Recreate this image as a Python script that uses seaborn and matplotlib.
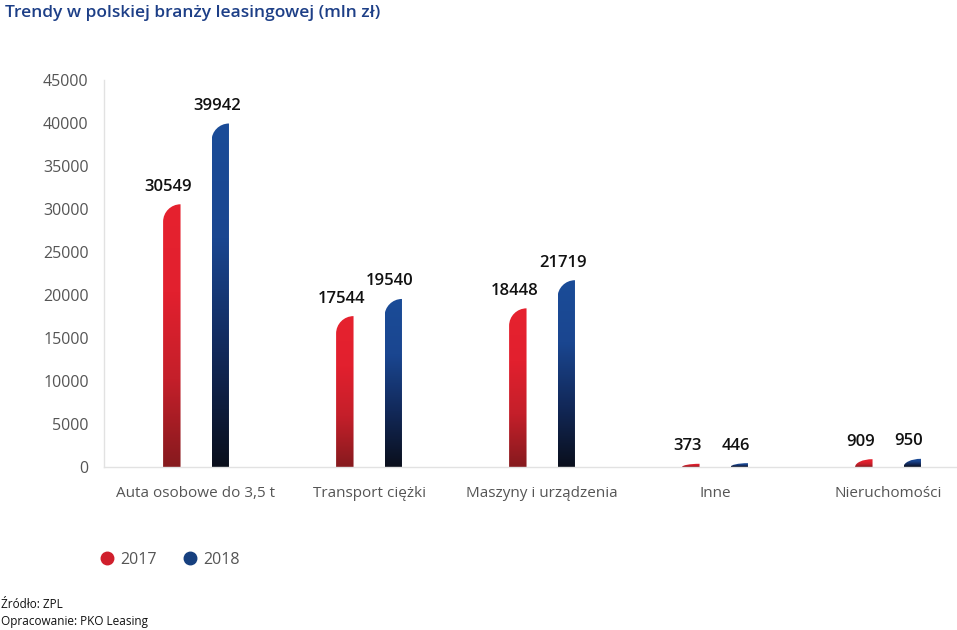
import numpy as np
import pandas as pd
import matplotlib
matplotlib.use("Agg")
import matplotlib.pyplot as plt
import seaborn as sns
from matplotlib.path import Path
from matplotlib.patches import PathPatch
from matplotlib.colors import LinearSegmentedColormap
from matplotlib.lines import Line2D

# dane
kategorie = ["Auta osobowe do 3,5 t", "Transport ciężki", "Maszyny i urządzenia",
             "Inne", "Nieruchomości"]
lata = ["2017", "2018"]
wartosci_2017 = [30549, 17544, 18448, 373, 909]
wartosci_2018 = [39942, 19540, 21719, 446, 950]
y_ticks = [0, 5000, 10000, 15000, 20000, 25000, 30000, 35000, 40000, 45000]

tytul = "Trendy w polskiej branży leasingowej (mln zł)"
zrodlo = "Źródło: ZPL"
opracowanie = "Opracowanie: PKO Leasing"

df = pd.DataFrame({
    "kategoria": kategorie * 2,
    "rok": [lata[0]] * len(kategorie) + [lata[1]] * len(kategorie),
    "wartosc": wartosci_2017 + wartosci_2018,
})

# gradijenti (dole -> gore)
gradijenti = {
    "2017": LinearSegmentedColormap.from_list("r", ["#861a1e", "#c41f2a", "#e2202e", "#e6222f"]),
    "2018": LinearSegmentedColormap.from_list("b", ["#0a0f1c", "#12295a", "#1a4690", "#1b4c98"]),
}
boje_legende = {"2017": "#d01f2c", "2018": "#16407f"}

sns.set_style("white")
plt.rcParams["font.family"] = ["Open Sans", "DejaVu Sans"]

fig = plt.figure(figsize=(9.57, 6.30), dpi=100)
ax = fig.add_axes([104 / 957, 1 - 467 / 630, 853 / 957, (467 - 80) / 630])

sns.barplot(data=df, x="kategoria", y="wartosc", hue="rok", hue_order=lata,
            width=0.56, gap=0.64, legend=False, ax=ax)

ymax = 45000
xlim = (-0.532, -0.532 + 853 / 173)
ax.set_ylim(0, ymax)
ax.set_xlim(*xlim)

# zaobljeni vrh: poluprecnik u pikselima ~ sirina stuba
fig.canvas.draw()
px_per_data_y = ax.bbox.height / ymax
px_per_data_x = ax.bbox.width / (xlim[1] - xlim[0])

grad = np.linspace(0, 1, 256).reshape(-1, 1)
for rok, cont in zip(lata, ax.containers):
    for bar in cont:
        x0 = bar.get_x()
        w = bar.get_width()
        h = bar.get_height()
        x1 = x0 + w
        bar.set_visible(False)
        ry = min(w * px_per_data_x / px_per_data_y, h)
        k = 0.5523
        verts = [(x0, 0), (x0, h - ry), (x0, h - ry + k * ry), (x1 - k * w, h),
                 (x1, h), (x1, 0), (x0, 0)]
        codes = [Path.MOVETO, Path.LINETO, Path.CURVE4, Path.CURVE4, Path.CURVE4,
                 Path.LINETO, Path.CLOSEPOLY]
        patch = PathPatch(Path(verts, codes), facecolor="none", edgecolor="none")
        ax.add_patch(patch)
        img = ax.imshow(grad, cmap=gradijenti[rok], origin="lower",
                        extent=(x0, x1, 0, h), aspect="auto", zorder=2)
        img.set_clip_path(patch)
        ax.text(x0 + w / 2 - 0.02, h + 1100, f"{int(h)}", ha="center", va="bottom",
                fontsize=12, color="#111111", fontweight="semibold")

ax.set_ylim(0, ymax)
ax.set_xlim(*xlim)

ax.set_yticks(y_ticks)
ax.set_yticklabels([str(t) for t in y_ticks])
ax.set_xticks(range(len(kategorie)))
ax.set_xticklabels(kategorie)
ax.set_xticks([i + 0.5 for i in range(len(kategorie) - 1)], minor=True)
ax.tick_params(axis="y", length=7, color="#e2e2e2", labelsize=11.5,
               labelcolor="#555555", pad=4)
ax.tick_params(axis="x", which="major", length=0, labelsize=11,
               labelcolor="#555555", pad=14)
ax.tick_params(axis="x", which="minor", length=5, color="#e2e2e2")
ax.set_xlabel("")
ax.set_ylabel("")

sns.despine(ax=ax, top=True, right=True)
for s in ["left", "bottom"]:
    ax.spines[s].set_color("#e2e2e2")
    ax.spines[s].set_linewidth(1)

# legenda
handles = [Line2D([0], [0], marker="o", linestyle="", markersize=9,
                  markerfacecolor=boje_legende[r], markeredgecolor=boje_legende[r])
           for r in lata]
fig.legend(handles, lata, loc="center left", bbox_to_anchor=(101 / 957, 1 - 560 / 630),
           ncol=2, frameon=False, fontsize=11.5, handlelength=0.8, handletextpad=0.4,
           columnspacing=1.7, borderpad=0, borderaxespad=0, labelcolor="#555555")

fig.text(5 / 957, 1 - 13 / 630, tytul, fontsize=12.5, color="#1d3f87",
         fontweight="semibold", va="center", ha="left")
fig.text(1 / 957, 1 - 605 / 630, zrodlo, fontsize=8.5, color="#111111", va="center")
fig.text(1 / 957, 1 - 621 / 630, opracowanie, fontsize=8.5, color="#111111", va="center")

fig.savefig("out.png", dpi=100)
